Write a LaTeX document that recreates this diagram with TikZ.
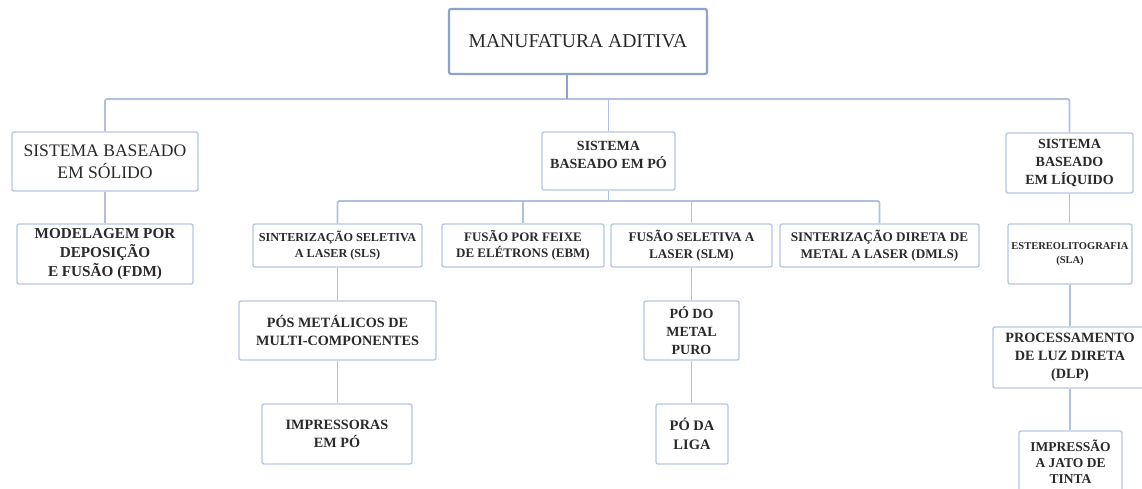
\documentclass[tikz,border=0pt]{standalone}
\usepackage{fontspec}
\setmainfont{Liberation Serif}
\newcommand{\myfs}[2]{\fontsize{#1}{#2}\selectfont}
\definecolor{boxc}{HTML}{B6C7E2}
\definecolor{topc}{HTML}{8CA4CC}
\definecolor{linec}{HTML}{AFC1DF}
\definecolor{txt}{HTML}{2A2A2A}
\tikzset{
  box/.style={draw=boxc, line width=1.4pt, rounded corners=2pt, fill=white,
    inner sep=0pt, align=center, text=txt},
  topbox/.style={box, draw=topc, line width=2.2pt},
  conn/.style={draw=linec, line width=1.8pt},
  topconn/.style={draw=topc, line width=2.2pt},
}
\begin{document}
\begin{tikzpicture}[x=1pt,y=-1pt]
\fill[white] (0,0) rectangle (1142,488);
\useasboundingbox (0,0) rectangle (1142,488);

% nodes
\node[topbox, minimum width=258pt, minimum height=65pt, font=\myfs{19.6}{22}] (top) at (578,41.5) {MANUFATURA ADITIVA};

\node[box, minimum width=186pt, minimum height=59pt, font=\myfs{17.6}{22}] (solid) at (105,161.5) {SISTEMA BASEADO\\EM SÓLIDO};
\node[box, minimum width=133pt, minimum height=58pt, font=\myfs{14}{17.7}\bfseries] (po) at (608.5,161) {SISTEMA\\BASEADO EM PÓ\\[-6pt]\mbox{}};
\node[box, minimum width=127pt, minimum height=60pt, font=\myfs{14}{18}\bfseries] (liq) at (1069.5,163) {SISTEMA\\BASEADO\\EM LÍQUIDO};

\node[box, minimum width=176pt, minimum height=60pt, font=\myfs{15.2}{19}\bfseries] (fdm) at (105,254) {MODELAGEM POR\\DEPOSIÇÃO\\E FUSÃO (FDM)};
\node[box, minimum width=169pt, minimum height=43pt, font=\myfs{12.2}{16}\bfseries] (sls) at (337.5,245.5) {SINTERIZAÇÃO SELETIVA\\A LASER (SLS)};
\node[box, minimum width=162pt, minimum height=43pt, font=\myfs{13}{16}\bfseries] (ebm) at (523,245.5) {FUSÃO POR FEIXE\\DE ELÉTRONS (EBM)};
\node[box, minimum width=161pt, minimum height=43pt, font=\myfs{13.2}{17}\bfseries] (slm) at (691.5,245.5) {FUSÃO SELETIVA A\\LASER (SLM)};
\node[box, minimum width=199pt, minimum height=43pt, font=\myfs{13.2}{17.3}\bfseries] (dmls) at (879.5,245.5) {SINTERIZAÇÃO DIRETA DE\\METAL A LASER (DMLS)};
\node[box, minimum width=124pt, minimum height=60pt, font=\myfs{10.5}{13.5}\bfseries] (sla) at (1070,254) {ESTEREOLITOGRAFIA\\(SLA)};

\node[box, minimum width=197pt, minimum height=59pt, font=\myfs{14.2}{18}\bfseries] (multi) at (337.5,330.5) {PÓS METÁLICOS DE\\MULTI-COMPONENTES};
\node[box, minimum width=150pt, minimum height=60pt, font=\myfs{14.2}{18}\bfseries] (imp) at (337,434) {IMPRESSORAS\\EM PÓ};
\node[box, minimum width=95pt, minimum height=59pt, font=\myfs{14}{18}\bfseries] (puro) at (691.5,330.5) {PÓ DO\\METAL\\PURO};
\node[box, minimum width=72pt, minimum height=60pt, font=\myfs{14.5}{19}\bfseries] (liga) at (692,434) {PÓ DA\\LIGA};
\node[box, minimum width=154pt, minimum height=61pt, font=\myfs{14.2}{18}\bfseries] (dlp) at (1070,357.5) {PROCESSAMENTO\\DE LUZ DIRETA\\(DLP)};
\node[box, minimum width=103pt, minimum height=62pt, font=\myfs{13.5}{16}\bfseries] (ink) at (1070.5,462) {IMPRESSÃO\\A JATO DE\\TINTA};

% bus coordinates
\coordinate (b1) at (0,99);
\coordinate (b2) at (0,201);

% connectors
\draw[conn, rounded corners=2pt] (solid.north) -- (solid.north |- b1) -- (liq.north |- b1) -- (liq.north);
\draw[topconn] ([xshift=-11pt]top.south) -- ([xshift=-11pt]top.south |- b1);
\draw[conn] (po.north |- b1) -- (po.north);
\draw[conn] (po.south) -- (po.south |- b2);
\draw[conn, rounded corners=2pt] (sls.north) -- (sls.north |- b2) -- (dmls.north |- b2) -- (dmls.north);
\draw[conn] (ebm.north |- b2) -- (ebm.north);
\draw[conn] (slm.north |- b2) -- (slm.north);

\draw[conn] (solid.south) -- (fdm.north);
\draw[conn] (sls.south) -- (multi.north);
\draw[conn] (multi.south) -- (multi.south |- imp.north);
\draw[conn] (slm.south) -- (puro.north);
\draw[conn] (puro.south) -- (puro.south |- liga.north);
\draw[conn] (liq.south) -- (liq.south |- sla.north);
\draw[conn] (sla.south) -- (dlp.north);
\draw[conn] (dlp.south) -- (dlp.south |- ink.north);
\end{tikzpicture}
\end{document}
